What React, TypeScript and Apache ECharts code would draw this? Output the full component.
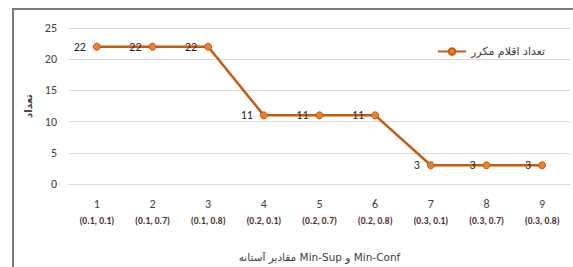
import React, { useEffect, useRef } from "react";
import * as echarts from "echarts";

const categories = ["1", "2", "3", "4", "5", "6", "7", "8", "9"];
const thresholdPairs = [
  "(0.1, 0.1)", "(0.1, 0.7)", "(0.1, 0.8)",
  "(0.2, 0.1)", "(0.2, 0.7)", "(0.2, 0.8)",
  "(0.3, 0.1)", "(0.3, 0.7)", "(0.3, 0.8)",
];
const frequentItems = [22, 22, 22, 11, 11, 11, 3, 3, 3];
const seriesName = "تعداد اقلام مکرر";
const xAxisTitle = "مقادیر آستانه Min-Sup و Min-Conf";
const yAxisTitle = "تعداد";

const FONT = "Calibri, Carlito, 'Liberation Sans', 'DejaVu Sans', sans-serif";

export default function App() {
  const ref = useRef<HTMLDivElement>(null);
  useEffect(() => {
    if (!ref.current) return;
    const chart = echarts.init(ref.current, undefined, { renderer: "svg" });
    chart.setOption({
      animation: false,
      backgroundColor: "#ffffff",
      textStyle: { fontFamily: FONT },
      graphic: [
        {
          type: "rect",
          shape: { x: 13, y: 9, width: 700, height: 400 },
          style: { fill: "none", stroke: "#7a7a7a", lineWidth: 2 },
          silent: true,
        },
      ],
      legend: {
        left: 432,
        top: 41,
        itemWidth: 28,
        itemHeight: 8,
        itemGap: 4,
        textStyle: { fontSize: 11, color: "#404040", fontFamily: "'DejaVu Sans', sans-serif" },
        data: [seriesName],
      },
      grid: { left: 69, right: 3, top: 28, bottom: 80 },
      xAxis: {
        type: "category",
        data: categories.map((c, i) => c + "\n" + thresholdPairs[i]),
        boundaryGap: true,
        axisLine: { show: true, lineStyle: { color: "#d9d9d9", width: 1 } },
        axisTick: { show: false },
        axisLabel: {
          margin: 11,
          interval: 0,
          formatter: (v: string) => {
            const [a, b] = v.split("\n");
            return "{n|" + a + "}\n{p|" + b + "}";
          },
          rich: {
            n: { fontSize: 12, color: "#404040", lineHeight: 18, fontFamily: FONT },
            p: { fontSize: 9.5, color: "#4a2e2e", fontWeight: "bold", lineHeight: 16, fontFamily: FONT },
          },
        },
        name: xAxisTitle,
        nameLocation: "middle",
        nameGap: 67,
        nameTextStyle: { fontSize: 10.5, color: "#404040", fontFamily: "'DejaVu Sans', sans-serif" },
      },
      yAxis: {
        type: "value",
        min: 0,
        max: 25,
        interval: 5,
        axisLine: { show: false },
        axisTick: { show: false },
        splitLine: { lineStyle: { color: "#d9d9d9", width: 1 } },
        axisLabel: { fontSize: 12, color: "#404040", margin: 12 },
        name: yAxisTitle,
        nameLocation: "middle",
        nameRotate: 90,
        nameGap: 35,
        nameTextStyle: { fontSize: 10, color: "#404040", fontWeight: "bold", fontFamily: "'DejaVu Sans', sans-serif" },
      },
      series: [
        {
          name: seriesName,
          type: "line",
          data: frequentItems,
          symbol: "circle",
          symbolSize: 7,
          lineStyle: { color: "#C55A11", width: 2.5 },
          itemStyle: { color: "#ED7D31", borderColor: "#C55A11", borderWidth: 1 },
          label: {
            show: true,
            position: "left",
            distance: 7,
            fontSize: 12,
            color: "#262626",
          },
        },
      ],
    });
    return () => chart.dispose();
  }, []);
  return (
    <div
      ref={ref}
      style={{ position: "fixed", left: 0, top: 0, width: 573, height: 267 }}
    />
  );
}
